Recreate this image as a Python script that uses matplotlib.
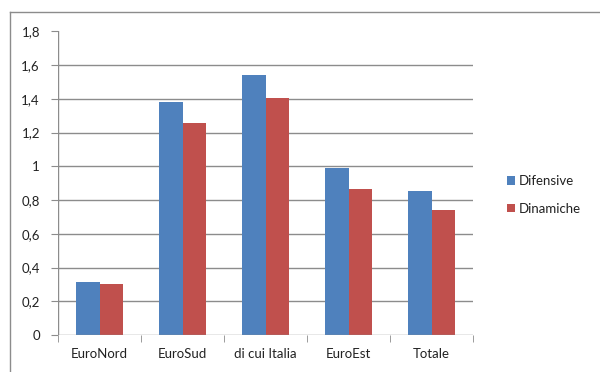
import matplotlib
matplotlib.use("Agg")
import matplotlib.pyplot as plt
import numpy as np

categories = ["EuroNord", "EuroSud", "di cui Italia", "EuroEst", "Totale"]
difensive = [0.316, 1.383, 1.543, 0.992, 0.853]
dinamiche = [0.300, 1.254, 1.406, 0.863, 0.741]
series_names = ["Difensive", "Dinamiche"]
yticks = [0, 0.2, 0.4, 0.6, 0.8, 1.0, 1.2, 1.4, 1.6, 1.8]
ytick_labels = ["0", "0,2", "0,4", "0,6", "0,8", "1", "1,2", "1,4", "1,6", "1,8"]

plt.rcParams['font.family'] = ['Lato', 'DejaVu Sans']
blue = "#4F81BD"
red = "#C0504D"
grid = "#8C8C8C"

fig = plt.figure(figsize=(6, 3.72), dpi=100)
# outer chart border (left and top edges visible)
fig.add_artist(plt.Line2D([10/600, 10/600], [0, 1 - 12/372], transform=fig.transFigure,
                          color=grid, linewidth=1.0))
fig.add_artist(plt.Line2D([10/600, 1.0], [1 - 12/372, 1 - 12/372], transform=fig.transFigure,
                          color=grid, linewidth=1.0))

ax = fig.add_axes([58/600, 1 - 335/372, 415/600, 303.75/372])
ax.set_frame_on(False)
x = np.arange(len(categories))
w = 0.285
ax.bar(x - w/2, difensive, w, color=blue, label=series_names[0], zorder=3)
ax.bar(x + w/2, dinamiche, w, color=red, label=series_names[1], zorder=3)

ax.set_xlim(-0.5, len(categories) - 0.5)
ax.set_ylim(0, 1.8)
ax.set_yticks(yticks)
ax.set_yticklabels(ytick_labels)
ax.hlines(yticks[1:-1], -0.5, len(categories) - 0.5, color=grid, linewidth=1.0, zorder=1)
# axis lines
ax.axvline(-0.5, color=grid, linewidth=1.0, zorder=2)
ax.axhline(0, color=grid, linewidth=1.0, zorder=4)

ax.set_xticks(x)
ax.set_xticklabels(categories)
ax.set_xticks(np.arange(-0.5, len(categories), 1.0), minor=True)
ax.tick_params(axis='x', which='major', length=0, pad=9, labelsize=9.5, colors="#222222")
ax.tick_params(axis='x', which='minor', length=5, color=grid, direction='out')
ax.tick_params(axis='y', length=5, color=grid, direction='out', pad=8, labelsize=9.5, labelcolor="#222222")

leg = fig.legend(loc='center left', bbox_to_anchor=(495/600, 1 - 195/372), frameon=False,
                 handlelength=0.6, handleheight=0.6, handletextpad=0.3, labelspacing=1.2,
                 fontsize=9.5)
for t in leg.get_texts():
    t.set_color("#222222")

fig.savefig("out.png", dpi=100)
